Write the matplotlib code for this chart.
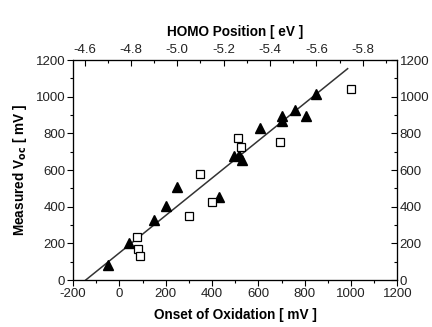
import numpy as np
import matplotlib
matplotlib.use("Agg")
import matplotlib.pyplot as plt

plt.rcParams['font.family'] = ['Liberation Sans', 'DejaVu Sans']
plt.rcParams['axes.unicode_minus'] = False

# filled triangles
tri_x = [-50, 40, 150, 200, 250, 430, 495, 515, 530, 605, 700, 700, 760, 805, 850]
tri_y = [80, 200, 325, 405, 505, 455, 675, 680, 655, 830, 895, 865, 925, 895, 1015]

# open squares
sq_x = [75, 80, 90, 300, 350, 400, 510, 525, 695, 1000]
sq_y = [235, 170, 130, 350, 580, 425, 775, 725, 755, 1040]

# linear fit through the data
fit_slope = 1.02
fit_intercept = 148
fit_range = [-145, 985]

# HOMO = -(onset / 1000 + offset)
homo_offset = 4.75
homo_ticks = [-4.6, -4.8, -5.0, -5.2, -5.4, -5.6, -5.8]
homo_minor = [-4.7, -4.9, -5.1, -5.3, -5.5, -5.7, -5.9]

fig = plt.figure(figsize=(4.32, 3.27), dpi=100)
ax = fig.add_axes([0.169, 0.1437, 0.751, 0.6728])

fx = np.array(fit_range)
ax.plot(fx, fit_slope * fx + fit_intercept, color='#333333', lw=1.1, zorder=2)
ax.plot(tri_x, tri_y, '^', color='black', ms=7.5, ls='none', zorder=3)
ax.plot(sq_x, sq_y, 's', mfc='white', mec='black', mew=0.9, ms=6, ls='none', zorder=3)

ax.set_xlim(-200, 1200)
ax.set_ylim(0, 1200)
ax.set_xticks(range(-200, 1201, 200))
ax.set_xticks(range(-100, 1200, 200), minor=True)
ax.set_yticks(range(0, 1201, 200))
ax.set_yticks(range(100, 1200, 200), minor=True)
ax.tick_params(which='both', labelsize=9.5, direction='out', pad=1.5, labelcolor='#222222')
ax.tick_params(which='major', length=4, width=0.8)
ax.tick_params(which='minor', length=2.5, width=0.8)
ax.set_xlabel('Onset of Oxidation [ mV ]', fontsize=9.8, fontweight='bold', labelpad=6)
ax.set_ylabel(r'Measured V$_{\mathbf{oc}}$ [ mV ]', fontsize=9.8, fontweight='bold', labelpad=5)

# right axis, same scale
axr = ax.twinx()
axr.set_ylim(0, 1200)
axr.set_yticks(range(0, 1201, 200))
axr.set_yticks(range(100, 1200, 200), minor=True)
axr.tick_params(which='both', labelsize=9.5, direction='in', pad=1.5, labelcolor='#222222')
axr.tick_params(which='major', length=4, width=0.8)
axr.tick_params(which='minor', length=2.5, width=0.8)

# top axis in eV
axt = ax.twiny()
axt.set_xlim(-(-200 / 1000 + homo_offset), -(1200 / 1000 + homo_offset))
axt.set_xticks(homo_ticks)
axt.set_xticks(homo_minor, minor=True)
axt.set_xticklabels(['%.1f' % t for t in homo_ticks])
axt.tick_params(which='both', labelsize=9.5, direction='in', pad=3, labelcolor='#222222')
axt.tick_params(which='major', length=4, width=0.8)
axt.tick_params(which='minor', length=2.5, width=0.8)
axt.set_xlabel('HOMO Position [ eV ]', fontsize=9.8, fontweight='bold', labelpad=6)

for a in (ax, axr, axt):
    for s in a.spines.values():
        s.set_linewidth(0.8)

fig.savefig('out.png', dpi=100)
